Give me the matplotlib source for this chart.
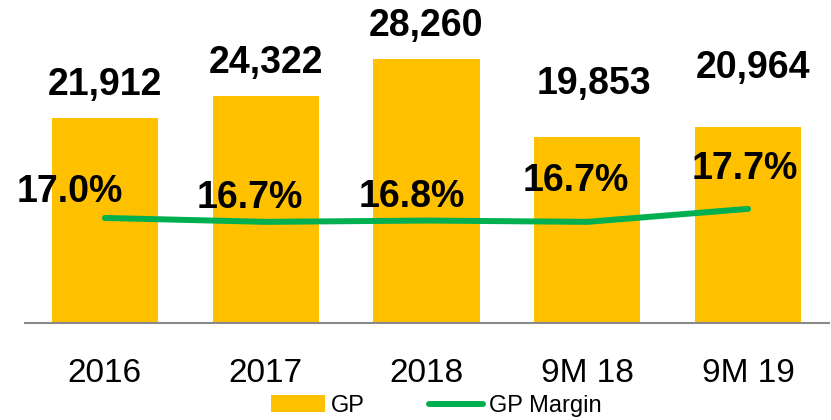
import matplotlib
matplotlib.use("Agg")
import matplotlib.pyplot as plt
import numpy as np

# Daten
categories = ["2016", "2017", "2018", "9M 18", "9M 19"]
gp_values = [21912, 24322, 28260, 19853, 20964]
gp_margin = [17.0, 16.7, 16.8, 16.7, 17.7]

# Label-Versatz in Pixeln (wie im Original manuell verschoben)
gp_label_offsets = [(0, 23), (0, 23), (0, 23), (7, 43), (5, 49)]
margin_label_offsets = [(-35, 16), (-16, 14), (-15, 14), (-11, 31), (-3, 30)]

bar_color = "#FFC000"
line_color = "#00B050"

plt.rcParams["font.family"] = ["Liberation Sans", "DejaVu Sans"]

fig = plt.figure(figsize=(8.31, 4.2), dpi=100)
ax = fig.add_axes([24.5 / 831, 97 / 420, 804 / 831, 318 / 420])
x = np.arange(len(categories))

# Balken GP
bars = ax.bar(x, gp_values, width=0.66, color=bar_color, label="GP", zorder=2)
ax.set_xlim(-0.5, 4.5)
ax.set_ylim(0, 34000)
ax.set_xticks(x)
ax.set_xticklabels(categories, fontsize=24)
ax.tick_params(axis="x", length=0, pad=25)
ax.set_yticks([])
for side in ["top", "left", "right"]:
    ax.spines[side].set_visible(False)
ax.spines["bottom"].set_color("#898989")
ax.spines["bottom"].set_linewidth(1.5)

for i, v in enumerate(gp_values):
    dx, dy = gp_label_offsets[i]
    ax.annotate(f"{v:,}", (x[i], v), xytext=(dx, dy), textcoords="offset pixels",
                ha="center", va="baseline", fontsize=27, fontweight="bold", zorder=5)

# Linie GP Margin auf zweiter Achse
ax2 = ax.twinx()
ax2.plot(x, gp_margin, color=line_color, linewidth=4.3, solid_capstyle="round",
         label="GP Margin", zorder=3)
ax2.set_ylim(8.92, 33.38)
ax2.set_yticks([])
for side in ["top", "left", "right", "bottom"]:
    ax2.spines[side].set_visible(False)

for i, m in enumerate(gp_margin):
    dx, dy = margin_label_offsets[i]
    ax2.annotate(f"{m:.1f}%", (x[i], m), xytext=(dx, dy), textcoords="offset pixels",
                 ha="center", va="baseline", fontsize=27, fontweight="bold", zorder=5)

# Legende
handles = [bars, ax2.get_lines()[0]]
fig.legend(handles, ["GP", "GP Margin"], loc="center", bbox_to_anchor=(436 / 831, 1 - 406 / 420),
           ncol=2, frameon=False, fontsize=17, handlelength=2.3, handletextpad=0.25,
           columnspacing=2.7, borderpad=0, borderaxespad=0)

fig.savefig("out.png", dpi=100)
